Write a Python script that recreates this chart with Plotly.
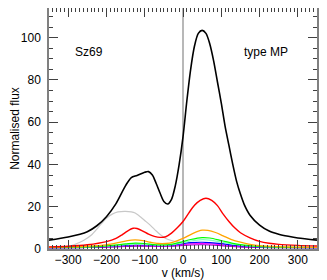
import plotly.graph_objects as go

# ---- data ----
v_black = [-350, -300, -250, -225, -200, -175, -150, -135, -120, -100, -90, -80, -70, -60, -50, -40, -30, -20, -10,
           0, 10, 20, 30, 40, 50, 60, 70, 80, 90, 100, 110, 120, 130, 140, 150, 160, 175, 200, 225, 250, 275, 300, 350]
f_black = [4.2, 5.7, 8.2, 11.0, 15.3, 21.5, 30.0, 33.8, 34.8, 36.3, 36.6, 35.0, 31.0, 26.5, 22.5, 21.3, 23.5, 30.0, 40.0,
           53.0, 70.0, 85.0, 96.0, 102.0, 103.4, 102.0, 97.0, 89.0, 79.0, 69.0, 58.0, 49.0, 40.0, 32.0, 26.0, 21.0, 16.0,
           11.3, 8.5, 7.0, 6.0, 5.2, 4.2]

v_gray = [-350, -310, -285, -260, -240, -220, -200, -185, -170, -150, -135, -125, -110, -100, -85, -70, -58, -45, -30, -15, 0]
f_gray = [0.4, 1.0, 2.0, 4.0, 6.5, 10.5, 14.5, 16.5, 17.6, 17.8, 17.6, 17.0, 15.0, 13.5, 11.2, 8.5, 6.6, 5.0, 4.0, 3.4, 3.2]

v_red = [-350, -300, -250, -200, -175, -160, -145, -130, -120, -105, -90, -75, -60, -45, -30, -15, 0, 15, 30, 45, 60,
         75, 90, 105, 120, 135, 150, 175, 200, 225, 250, 300, 350]
f_red = [1.0, 1.3, 2.0, 3.5, 5.0, 6.6, 8.5, 9.8, 9.7, 8.5, 7.0, 6.0, 5.5, 5.8, 7.5, 10.0, 13.0, 17.0, 20.7, 23.0, 24.0,
         23.0, 20.5, 16.5, 13.0, 10.0, 7.7, 5.3, 3.6, 2.7, 2.2, 1.7, 1.4]

v_orange = [-350, -300, -250, -200, -170, -145, -125, -105, -85, -65, -45, -25, 0, 25, 50, 65, 85, 105, 125, 150, 175,
            200, 250, 300, 350]
f_orange = [0.8, 1.0, 1.3, 2.0, 3.0, 4.0, 4.3, 4.0, 3.2, 2.6, 2.6, 3.3, 5.0, 7.3, 8.9, 8.8, 7.8, 6.2, 4.6, 3.2, 2.2,
            1.6, 1.1, 0.9, 0.8]

v_comp = [-350, -250, -200, -150, -125, -100, -70, -40, -10, 20, 50, 70, 100, 130, 160, 200, 250, 350]
f_green = [0.7, 1.0, 1.5, 2.4, 2.8, 2.6, 2.0, 2.0, 3.0, 4.5, 5.4, 5.2, 4.0, 2.7, 1.8, 1.2, 0.9, 0.7]
f_cyan = [0.6, 0.9, 1.3, 2.0, 2.3, 2.2, 1.8, 1.8, 2.6, 3.8, 4.4, 4.2, 3.3, 2.3, 1.6, 1.1, 0.8, 0.6]
f_blue = [0.6, 0.8, 1.1, 1.7, 2.0, 1.9, 1.6, 1.7, 2.3, 3.0, 3.2, 3.0, 2.5, 1.8, 1.3, 0.9, 0.7, 0.6]
f_magenta = [0.6, 0.8, 1.0, 1.5, 1.7, 1.6, 1.4, 1.5, 1.9, 2.4, 2.5, 2.4, 2.0, 1.5, 1.1, 0.8, 0.7, 0.6]
f_purple = [0.5, 0.7, 0.9, 1.2, 1.3, 1.3, 1.2, 1.3, 1.6, 1.9, 2.0, 1.9, 1.6, 1.2, 0.9, 0.7, 0.6, 0.5]

x_ticks = [-300, -200, -100, 0, 100, 200, 300]
y_ticks = [0, 20, 40, 60, 80, 100]

fig = go.Figure()


def add(x, y, color, width=1.3):
    fig.add_trace(go.Scatter(x=x, y=y, mode="lines", line=dict(color=color, width=width, shape="spline", smoothing=0.8),
                             hoverinfo="skip", showlegend=False))


add(v_gray, f_gray, "#c8c8c8", 1.2)
add(v_comp, f_purple, "#8000c0", 1.2)
add(v_comp, f_magenta, "#ff00ff", 1.2)
add(v_comp, f_blue, "#0000ff", 1.2)
add(v_comp, f_cyan, "#80ffc0", 1.2)
add(v_comp, f_green, "#00ff00", 1.2)
add(v_orange, f_orange, "#ffa500", 1.3)
add(v_red, f_red, "#ff0000", 1.4)
add(v_black, f_black, "#000000", 1.6)

fig.add_shape(type="line", x0=0, x1=0, xref="x", y0=0, y1=1, yref="paper",
              line=dict(color="#b8b8b8", width=2), layer="below")

fig.add_annotation(x=-245, y=93, text="Sz69", showarrow=False, font=dict(size=12, color="black"))
fig.add_annotation(x=217, y=93, text="type MP", showarrow=False, font=dict(size=12, color="black"))

axis_common = dict(showgrid=False, zeroline=False, showline=True, linecolor="#808080", linewidth=1.5,
                   mirror="ticks", ticks="inside", tickcolor="#404040", tickwidth=1,
                   tickfont=dict(size=12, color="black"), automargin=False)

fig.update_xaxes(range=[-350, 350], tickvals=x_ticks, ticklen=9, ticklabelstandoff=-1,
                 minor=dict(ticks="inside", dtick=10, ticklen=4.5, tickcolor="#404040"),
                 title=dict(text="v (km/s)", font=dict(size=12, color="black"), standoff=10),
                 **axis_common)
fig.update_yaxes(range=[0, 114], tickvals=y_ticks, ticklen=9, ticklabelstandoff=4,
                 minor=dict(ticks="inside", dtick=5, ticklen=4.5, tickcolor="#404040"),
                 title=dict(text="Normalised flux", font=dict(size=12, color="black"), standoff=2),
                 **axis_common)

# the page body adds an 8px offset, so the figure is sized to the remaining window
fig.update_layout(width=319, height=272, margin=dict(l=41, r=10, t=0, b=31),
                  paper_bgcolor="white", plot_bgcolor="white",
                  font=dict(family="Liberation Sans, Arial, sans-serif", size=12, color="black"))

fig.write_html("out.html")
